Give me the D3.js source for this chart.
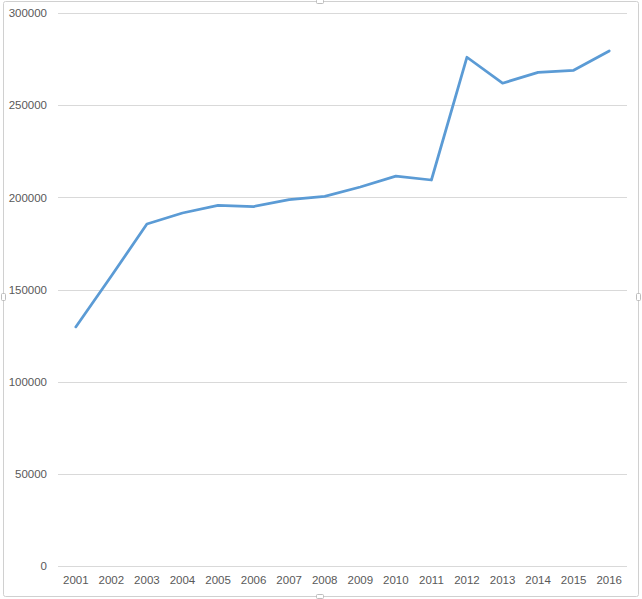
<!DOCTYPE html>
<html>
<head>
<meta charset="utf-8">
<script src="https://cdn.jsdelivr.net/npm/d3@7"></script>
<style>
  body { margin: 0; background: #fff; }
  text { font-family: "Liberation Sans", "DejaVu Sans", sans-serif; font-size: 11px; fill: #595959; }
</style>
</head>
<body>
<div id="chart"></div>
<script>
// data
var years = ['2001','2002','2003','2004','2005','2006','2007','2008',
             '2009','2010','2011','2012','2013','2014','2015','2016'];
var values = [129700, 157300, 185500, 191500, 195600, 195000, 198800, 200500,
              205600, 211500, 209400, 276000, 261900, 267800, 268900, 279400];
var yTicks = [0, 50000, 100000, 150000, 200000, 250000, 300000];

var W = 642, H = 599;
var margin = {top: 13, right: 15, bottom: 33, left: 58};
var w = W - margin.left - margin.right;
var h = H - margin.top - margin.bottom;

var svg = d3.select('#chart').append('svg').attr('width', W).attr('height', H);

// chart frame + selection handles
svg.append('rect')
   .attr('x', 3.5).attr('y', 1.5).attr('width', 635).attr('height', 595)
   .attr('rx', 2)
   .style('fill', 'none').style('stroke', '#d0d0d0');
var handles = [[320, 1.5, 'h'], [320, 596.5, 'h'], [3.5, 297, 'v'], [638.5, 297, 'v']];
svg.selectAll('.handle').data(handles).enter()
   .append('rect')
   .attr('class', 'handle')
   .attr('x', d => d[2] === 'h' ? d[0] - 3.5 : d[0] - 2)
   .attr('y', d => d[2] === 'h' ? d[1] - 2 : d[1] - 3.5)
   .attr('width', d => d[2] === 'h' ? 7 : 4)
   .attr('height', d => d[2] === 'h' ? 4 : 7)
   .attr('rx', 1)
   .style('fill', '#fff').style('stroke', '#bdbdbd');

var g = svg.append('g').attr('transform', `translate(${margin.left},${margin.top})`);

var x = d3.scaleBand().domain(years).range([0, w]);
var y = d3.scaleLinear().domain([0, 300000]).range([h, 0]);

// grid lines
g.append('g').attr('class', 'grid')
 .selectAll('line').data(yTicks).enter()
 .append('line')
 .attr('x1', 0).attr('x2', w)
 .attr('y1', d => Math.round(y(d)) + 0.5).attr('y2', d => Math.round(y(d)) + 0.5)
 .style('stroke', '#d9d9d9').style('stroke-width', 1);

// y axis labels
var yAxis = d3.axisLeft(y).tickValues(yTicks).tickSize(0).tickPadding(11).tickFormat(d3.format('d'));
g.append('g').call(yAxis).call(a => a.select('.domain').remove())
 .selectAll('text').style('font-size', '11.5px').style('fill', '#595959');

// x axis labels
var xAxis = d3.axisBottom(x).tickSize(0).tickPadding(10);
g.append('g').attr('transform', `translate(0,${h})`).call(xAxis)
 .call(a => a.select('.domain').remove())
 .selectAll('text').style('font-size', '11.5px').style('fill', '#595959');

// line
var line = d3.line()
    .x((d, i) => x(years[i]) + x.bandwidth() / 2)
    .y(d => y(d));

g.append('path')
 .datum(values)
 .attr('d', line)
 .style('fill', 'none')
 .style('stroke', '#5b9bd5')
 .style('stroke-width', 2.75)
 .style('stroke-linejoin', 'round')
 .style('stroke-linecap', 'round');
</script>
</body>
</html>
